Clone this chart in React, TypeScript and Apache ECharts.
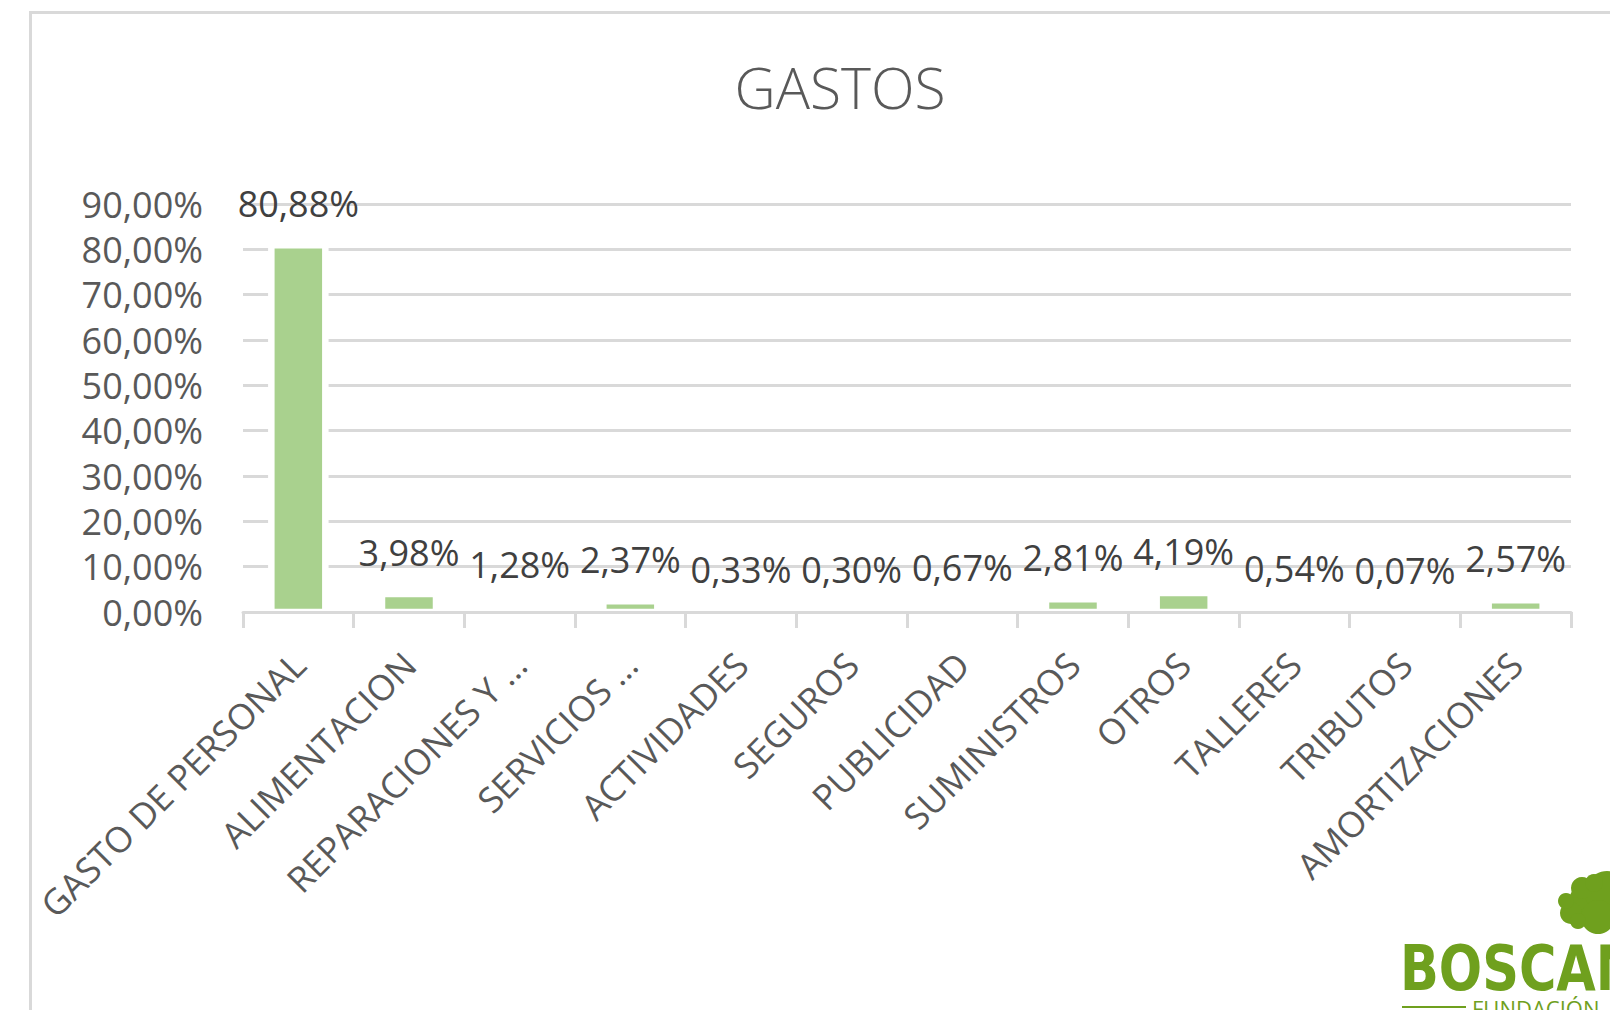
import React, { useEffect, useRef } from 'react';
import * as echarts from 'echarts';

const categories = [
  'GASTO DE PERSONAL',
  'ALIMENTACION',
  'REPARACIONES Y …',
  'SERVICIOS …',
  'ACTIVIDADES',
  'SEGUROS',
  'PUBLICIDAD',
  'SUMINISTROS',
  'OTROS',
  'TALLERES',
  'TRIBUTOS',
  'AMORTIZACIONES',
];
const values = [80.88, 3.98, 1.28, 2.37, 0.33, 0.3, 0.67, 2.81, 4.19, 0.54, 0.07, 2.57];
const yMin = 0;
const yMax = 90;
const yStep = 10;
const titleText = 'GASTOS';
const logoText = 'BOSCAN';
const logoSub = 'FUNDACIÓN';

const pct = (v: number) => v.toFixed(2).replace('.', ',') + '%';

export default function App() {
  const ref = useRef<HTMLDivElement>(null);
  useEffect(() => {
    const chart = echarts.init(ref.current as HTMLDivElement, null, { renderer: 'svg' });
    const green = '#6fa01e';
    const treeBlobs = [
      [1590, 902, 21],
      [1607, 893, 22],
      [1571, 913, 11],
      [1598, 917, 17],
      [1582, 888, 11],
      [1566, 901, 8],
      [1594, 883, 9],
      [1578, 921, 8],
    ];
    chart.setOption({
      animation: false,
      backgroundColor: '#ffffff',
      title: {
        text: titleText,
        left: 835,
        top: 53,
        textAlign: 'center',
        textStyle: { fontFamily: 'Open Sans', fontSize: 57, fontWeight: 300, color: '#595959' },
      },
      grid: { left: 243, right: 39, top: 204, bottom: 398, containLabel: false },
      xAxis: {
        type: 'category',
        data: categories,
        z: 5,
        axisLine: { show: true, lineStyle: { color: '#d9d9d9', width: 3 } },
        axisTick: { show: true, length: 16, lineStyle: { color: '#d9d9d9', width: 3 } },
        axisLabel: {
          rotate: 45,
          interval: 0,
          margin: 46,
          align: 'right',
          verticalAlign: 'middle',
          fontFamily: 'Open Sans',
          fontSize: 35.5,
          color: '#595959',
        },
      },
      yAxis: {
        type: 'value',
        min: yMin,
        max: yMax,
        interval: yStep,
        axisLine: { show: false },
        axisTick: { show: false },
        splitLine: { show: true, lineStyle: { color: '#d9d9d9', width: 3 } },
        axisLabel: {
          margin: 40,
          fontFamily: 'Open Sans',
          fontSize: 36,
          color: '#595959',
          formatter: (v: number) => pct(v),
        },
      },
      series: [
        {
          type: 'custom',
          data: values.map((v, i) => [i, v]),
          encode: { x: 0, y: 1 },
          renderItem: (params: any, api: any) => {
            const idx = api.value(0);
            const v = api.value(1);
            const top = api.coord([idx, v]);
            const base = api.coord([idx, 0]);
            return {
              type: 'group',
              children: [
                {
                  type: 'rect',
                  shape: { x: top[0] - 27, y: top[1], width: 54, height: base[1] - top[1] },
                  style: { fill: '#a9d18e', stroke: '#ffffff', lineWidth: 6.5 },
                },
                {
                  type: 'text',
                  x: top[0],
                  y: top[1] - 23.5,
                  style: {
                    text: pct(v),
                    fill: '#404040',
                    fontFamily: 'Open Sans',
                    fontSize: 36,
                    align: 'center',
                    verticalAlign: 'bottom',
                  },
                },
              ],
            };
          },
        },
      ],
      graphic: [
        {
          type: 'rect',
          shape: { x: 30.5, y: 12.5, width: 1700, height: 1100 },
          style: { fill: 'none', stroke: '#d9d9d9', lineWidth: 3 },
          silent: true,
        },
        {
          type: 'group',
          children: [
            ...treeBlobs.map(([cx, cy, r]) => ({
              type: 'circle',
              shape: { cx, cy, r },
              style: { fill: green },
            })),
            {
              type: 'text',
              x: 1400,
              y: 942,
              scaleX: 0.9,
              style: {
                text: logoText,
                fill: green,
                fontFamily: 'DejaVu Sans Condensed, Liberation Sans Narrow, sans-serif',
                fontWeight: 'bold',
                fontSize: 63,
                lineHeight: 52,
                textAlign: 'left',
                textVerticalAlign: 'top',
              },
            },
            {
              type: 'line',
              shape: { x1: 1402, y1: 1007, x2: 1466, y2: 1007 },
              style: { stroke: green, lineWidth: 2 },
            },
            {
              type: 'text',
              x: 1472,
              y: 997,
              style: {
                text: logoSub,
                fill: green,
                fontFamily: 'Open Sans',
                fontSize: 22,
                textAlign: 'left',
                textVerticalAlign: 'top',
              },
            },
          ],
        },
      ],
    });
    return () => chart.dispose();
  }, []);
  return (
    <div
      ref={ref}
      style={{ position: 'absolute', left: 0, top: 0, width: 1610, height: 1010, background: '#fff' }}
    />
  );
}
